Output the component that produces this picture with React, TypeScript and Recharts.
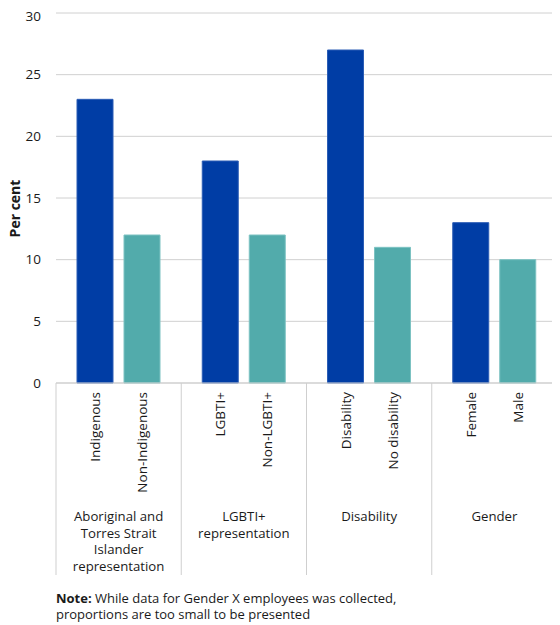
import React from 'react';
import { BarChart, Bar, XAxis, YAxis, CartesianGrid, LabelList } from 'recharts';

const groups = ['Aboriginal and Torres Strait Islander representation', 'LGBTI+ representation', 'Disability', 'Gender'];
const groupLines = [
  ['Aboriginal and', 'Torres Strait', 'Islander', 'representation'],
  ['LGBTI+', 'representation'],
  ['Disability'],
  ['Gender'],
];
const firstLabels = ['Indigenous', 'LGBTI+', 'Disability', 'Female'];
const secondLabels = ['Non-Indigenous', 'Non-LGBTI+', 'No disability', 'Male'];
const firstValues = [23, 18, 27, 13];
const secondValues = [12, 12, 11, 10];
const yTicks = [0, 5, 10, 15, 20, 25, 30];

const data = groups.map((g, i) => ({
  group: g,
  idx: i,
  a: firstValues[i],
  b: secondValues[i],
  nameA: firstLabels[i],
  nameB: secondLabels[i],
}));

const FONT = "'Open Sans', sans-serif";
const BLUE = '#003DA5';
const BLUE_STROKE = '#2B5DB5';
const TEAL = '#52ABAB';
const TEAL_STROKE = '#7CC2C2';
const SEP = '#CFCFCF';

const SubLabel = (props: any) => {
  const { x, y, width, height, value } = props;
  const cx = Number(x) + Number(width) / 2;
  const by = Number(y) + Number(height) + 9;
  return (
    <text
      x={cx}
      y={by}
      transform={`rotate(-90 ${cx} ${by})`}
      textAnchor="end"
      dominantBaseline="central"
      fontFamily={FONT}
      fontSize={13.5}
      fill="#1a1a1a"
    >
      {value}
    </text>
  );
};

const GroupTick = (props: any) => {
  const { x, y, payload, index } = props;
  const half = payload && payload.offset ? payload.offset : 62.6;
  const lines = groupLines[index] || [];
  const isLast = index === groups.length - 1;
  return (
    <g>
      <line x1={x - half} y1={y} x2={x - half} y2={y + 192} stroke={SEP} strokeWidth={1} />
      {isLast && <line x1={x + half} y1={y} x2={x + half} y2={y + 192} stroke={SEP} strokeWidth={1} />}
      {lines.map((l, i) => (
        <text
          key={i}
          x={x}
          y={y + 133 + i * 16.5}
          textAnchor="middle"
          dominantBaseline="central"
          fontFamily={FONT}
          fontSize={13.2}
          fill="#1a1a1a"
        >
          {l}
        </text>
      ))}
    </g>
  );
};

const YLabel = (props: any) => {
  const vb = props.viewBox || { x: 0, y: 0, width: 0, height: 0 };
  const cx = vb.x + 6;
  const cy = vb.y + vb.height / 2 + 10.5;
  return (
    <text
      x={cx}
      y={cy}
      transform={`rotate(-90 ${cx} ${cy})`}
      textAnchor="middle"
      dominantBaseline="central"
      fontFamily={FONT}
      fontSize={14}
      fontWeight={700}
      fill="#1a1a1a"
    >
      Per cent
    </text>
  );
};

export default function App() {
  return (
    <div style={{ width: 552, fontFamily: FONT }}>
      <BarChart
        width={552}
        height={570}
        data={data}
        margin={{ top: 5, right: 3, bottom: 3, left: 0 }}
        barGap={11}
        barSize={36}
      >
        <CartesianGrid vertical={false} stroke="#D0D0D0" />
        <XAxis
          dataKey="group"
          height={192}
          axisLine={{ stroke: SEP }}
          tickLine={false}
          tickSize={0}
          tickMargin={0}
          interval={0}
          tick={<GroupTick />}
        />
        <YAxis
          width={48}
          domain={[0, 30]}
          ticks={yTicks}
          axisLine={false}
          tickLine={false}
          tickMargin={9}
          tick={{ fontFamily: FONT, fontSize: 13.5, fill: '#1a1a1a' }}
          label={<YLabel />}
        />
        <Bar dataKey="a" fill={BLUE} stroke={BLUE_STROKE} strokeWidth={1} isAnimationActive={false}>
          <LabelList dataKey="nameA" content={<SubLabel />} />
        </Bar>
        <Bar dataKey="b" fill={TEAL} stroke={TEAL_STROKE} strokeWidth={1} isAnimationActive={false}>
          <LabelList dataKey="nameB" content={<SubLabel />} />
        </Bar>
      </BarChart>
      <div style={{ marginLeft: 48, marginTop: 12, fontSize: 13, lineHeight: '16px', color: '#1a1a1a' }}>
        <b>Note:</b> While data for Gender X employees was collected,
        <br />
        proportions are too small to be presented
      </div>
    </div>
  );
}
